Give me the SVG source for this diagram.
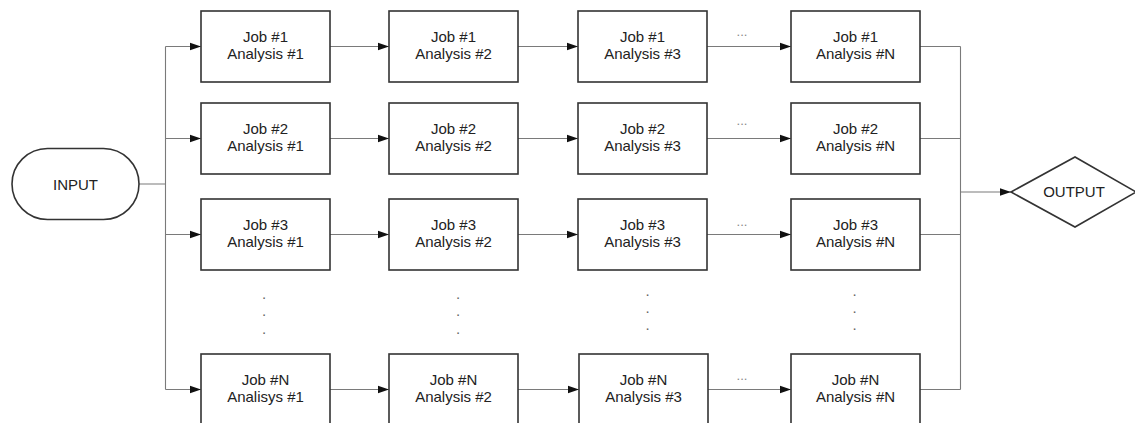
<svg xmlns="http://www.w3.org/2000/svg" width="1135" height="423" viewBox="0 0 1135 423">
<style>
.box{fill:#fff;stroke:#333;stroke-width:1.6}
.t{font-family:"Liberation Sans",Arial,sans-serif;font-size:15px;fill:#222;text-anchor:middle}
.c{fill:none;stroke:#7a7a7a;stroke-width:1.1}
.a{marker-end:url(#ah)}
.el{font-family:"Liberation Sans",Arial,sans-serif;font-size:13px;fill:#888;text-anchor:middle}
.dot{font-family:"Liberation Sans",Arial,sans-serif;font-size:15px;fill:#666;text-anchor:middle}
</style>
<defs>
<marker id="ah" markerUnits="userSpaceOnUse" markerWidth="13" markerHeight="10" refX="11.5" refY="4.5" orient="auto">
<path d="M0,0.5 L11.5,4.5 L0,8.5 z" fill="#111"/>
</marker>
</defs>
<rect width="1135" height="423" fill="#fff"/>
<g id="connectors">
<path class="c" d="M139,184 H165.5 M165.5,46.5 V389.5"/>
<path class="c a" d="M165.5,46.5 H201"/>
<path class="c a" d="M165.5,138.5 H201"/>
<path class="c a" d="M165.5,234.5 H201"/>
<path class="c a" d="M165.5,389.5 H201"/>
<path class="c a" d="M330,46.5 H389"/>
<path class="c a" d="M330,138.5 H389"/>
<path class="c a" d="M330,234.5 H389"/>
<path class="c a" d="M330,389.5 H389"/>
<path class="c a" d="M518,46.5 H578"/>
<path class="c a" d="M518,138.5 H578"/>
<path class="c a" d="M518,234.5 H578"/>
<path class="c a" d="M518,389.5 H579"/>
<path class="c a" d="M707,46.5 H791"/>
<path class="c a" d="M707,138.5 H791"/>
<path class="c a" d="M707,234.5 H791"/>
<path class="c a" d="M708,389.5 H791"/>
<text class="el" x="742" y="36">...</text>
<text class="el" x="742" y="125">...</text>
<text class="el" x="742" y="226">...</text>
<text class="el" x="742" y="380">...</text>
<path class="c" d="M920,46.5 H960.5 M920,138.5 H960.5 M920,234.5 H960.5 M920,389.5 H960.5 M960.5,46.5 V389.5"/>
<path class="c a" d="M960.5,192 H1011"/>
</g>
<g id="input">
<rect class="box" x="12" y="148.5" width="127" height="71" rx="35.5"/>
<text class="t" x="75.5" y="189.5">INPUT</text>
</g>
<g id="output">
<polygon class="box" points="1011,192 1075,157 1136,192 1075,227"/>
<text class="t" x="1074" y="197">OUTPUT</text>
</g>
<g id="j1a1"><rect class="box" x="201" y="11" width="129" height="71"/><text class="t" x="265.5" y="42">Job #1</text><text class="t" x="265.5" y="59">Analysis #1</text></g>
<g id="j1a2"><rect class="box" x="389" y="11" width="129" height="71"/><text class="t" x="453.5" y="42">Job #1</text><text class="t" x="453.5" y="59">Analysis #2</text></g>
<g id="j1a3"><rect class="box" x="578" y="11" width="129" height="71"/><text class="t" x="642.5" y="42">Job #1</text><text class="t" x="642.5" y="59">Analysis #3</text></g>
<g id="j1aN"><rect class="box" x="791" y="11" width="129" height="71"/><text class="t" x="855.5" y="42">Job #1</text><text class="t" x="855.5" y="59">Analysis #N</text></g>
<g id="j2a1"><rect class="box" x="201" y="103" width="129" height="71"/><text class="t" x="265.5" y="134">Job #2</text><text class="t" x="265.5" y="151">Analysis #1</text></g>
<g id="j2a2"><rect class="box" x="389" y="103" width="129" height="71"/><text class="t" x="453.5" y="134">Job #2</text><text class="t" x="453.5" y="151">Analysis #2</text></g>
<g id="j2a3"><rect class="box" x="578" y="103" width="129" height="71"/><text class="t" x="642.5" y="134">Job #2</text><text class="t" x="642.5" y="151">Analysis #3</text></g>
<g id="j2aN"><rect class="box" x="791" y="103" width="129" height="71"/><text class="t" x="855.5" y="134">Job #2</text><text class="t" x="855.5" y="151">Analysis #N</text></g>
<g id="j3a1"><rect class="box" x="201" y="199" width="129" height="71"/><text class="t" x="265.5" y="230">Job #3</text><text class="t" x="265.5" y="247">Analysis #1</text></g>
<g id="j3a2"><rect class="box" x="389" y="199" width="129" height="71"/><text class="t" x="453.5" y="230">Job #3</text><text class="t" x="453.5" y="247">Analysis #2</text></g>
<g id="j3a3"><rect class="box" x="578" y="199" width="129" height="71"/><text class="t" x="642.5" y="230">Job #3</text><text class="t" x="642.5" y="247">Analysis #3</text></g>
<g id="j3aN"><rect class="box" x="791" y="199" width="129" height="71"/><text class="t" x="855.5" y="230">Job #3</text><text class="t" x="855.5" y="247">Analysis #N</text></g>
<g id="jNa1"><rect class="box" x="201" y="354" width="129" height="71"/><text class="t" x="265.5" y="385">Job #N</text><text class="t" x="265.5" y="402">Analisys #1</text></g>
<g id="jNa2"><rect class="box" x="389" y="354" width="129" height="71"/><text class="t" x="453.5" y="385">Job #N</text><text class="t" x="453.5" y="402">Analysis #2</text></g>
<g id="jNa3"><rect class="box" x="579" y="354" width="129" height="71"/><text class="t" x="643.5" y="385">Job #N</text><text class="t" x="643.5" y="402">Analysis #3</text></g>
<g id="jNaN"><rect class="box" x="791" y="354" width="129" height="71"/><text class="t" x="855.5" y="385">Job #N</text><text class="t" x="855.5" y="402">Analysis #N</text></g>
<g id="vdots">
<text class="dot" x="264" y="299">.</text><text class="dot" x="264" y="316">.</text><text class="dot" x="264" y="333.5">.</text>
<text class="dot" x="458" y="299">.</text><text class="dot" x="458" y="316">.</text><text class="dot" x="458" y="333.5">.</text>
<text class="dot" x="647.5" y="295.5">.</text><text class="dot" x="647.5" y="313">.</text><text class="dot" x="647.5" y="330">.</text>
<text class="dot" x="854.5" y="295.5">.</text><text class="dot" x="854.5" y="313">.</text><text class="dot" x="854.5" y="330">.</text>
</g>
</svg>
